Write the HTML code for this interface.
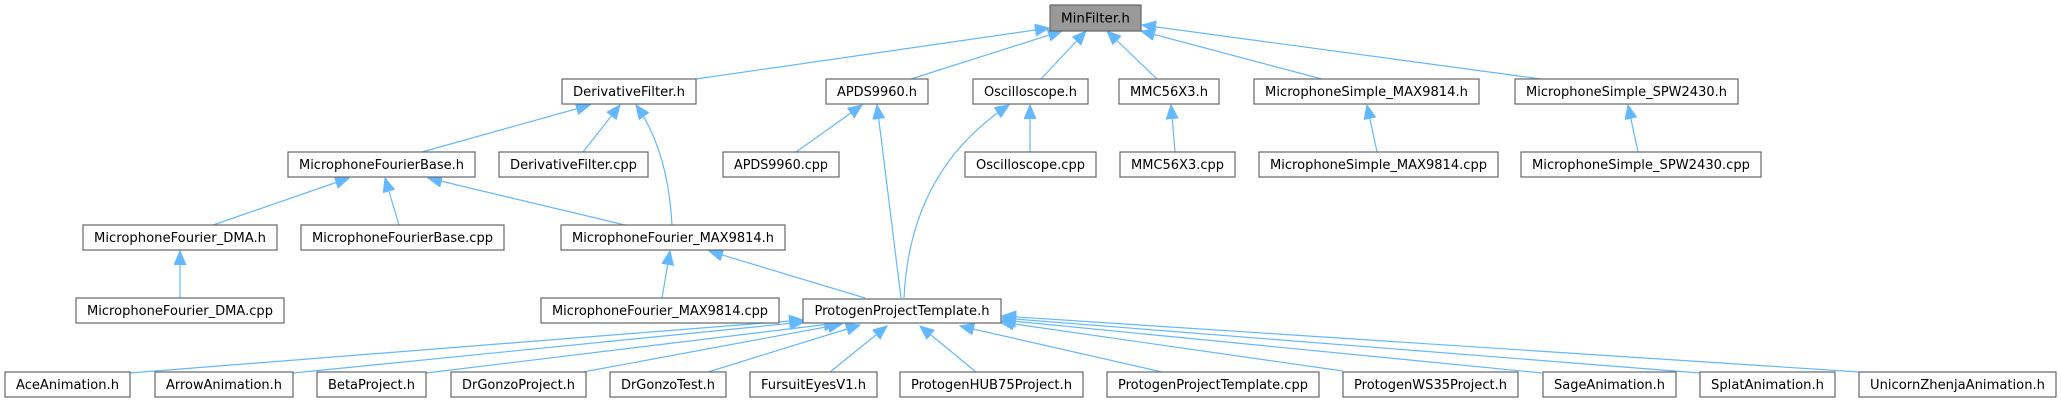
<!DOCTYPE html>
<html><head><meta charset="utf-8"><style>
html,body{margin:0;padding:0;background:#fff;}
svg{display:block;}
text{font-family:"DejaVu Sans","Liberation Sans",sans-serif;font-size:13px;fill:#000;}
</style></head><body>
<svg width="2061" height="403" viewBox="0 0 2061 403" xmlns="http://www.w3.org/2000/svg">
<defs>
<marker id="a" markerUnits="userSpaceOnUse" markerWidth="16" markerHeight="14" refX="14" refY="6" orient="auto">
<path d="M0,0 L14,6 L0,12 z" fill="#63b8ff" stroke="#63b8ff"/>
</marker>
</defs>
<g stroke="#63b8ff" stroke-width="1.2" fill="none" marker-end="url(#a)">
<line x1="696" y1="79" x2="1049" y2="28"/>
<line x1="911" y1="79" x2="1062" y2="31"/>
<line x1="1041" y1="79" x2="1086" y2="31"/>
<line x1="1157" y1="79" x2="1107" y2="31"/>
<line x1="1322" y1="79" x2="1141" y2="31"/>
<line x1="1541" y1="79" x2="1142" y2="25"/>
<line x1="422" y1="152" x2="590" y2="105"/>
<line x1="583" y1="152" x2="620" y2="105"/>
<path d="M672,225 Q668,150 636,105"/>
<line x1="213" y1="225" x2="349" y2="178"/>
<line x1="399" y1="225" x2="385" y2="178"/>
<line x1="625" y1="225" x2="428" y2="178"/>
<line x1="180" y1="298" x2="180" y2="251"/>
<line x1="662" y1="298" x2="670" y2="251"/>
<line x1="865" y1="298" x2="709" y2="251"/>
<line x1="796" y1="152" x2="862" y2="105"/>
<path d="M901,298 L877,105"/>
<path d="M904,298 Q910,170 1009,105"/>
<line x1="1030" y1="152" x2="1030" y2="105"/>
<line x1="1175" y1="152" x2="1171" y2="105"/>
<line x1="1377" y1="152" x2="1367" y2="105"/>
<line x1="1638" y1="152" x2="1628" y2="105"/>
<line x1="130" y1="373" x2="803" y2="320"/>
<line x1="293" y1="373" x2="804" y2="322"/>
<line x1="426" y1="373" x2="838" y2="323"/>
<line x1="583" y1="372" x2="842" y2="324"/>
<line x1="708" y1="372" x2="860" y2="325"/>
<line x1="830" y1="372" x2="887" y2="326"/>
<line x1="976" y1="372" x2="920" y2="326"/>
<line x1="1162" y1="372" x2="960" y2="326"/>
<line x1="1343" y1="371" x2="1000" y2="322"/>
<line x1="1542" y1="373" x2="1002" y2="320"/>
<line x1="1700" y1="373" x2="1002" y2="318"/>
<line x1="1859" y1="372" x2="1002" y2="316"/>
</g>
<g stroke="#666" stroke-width="1.2" fill="#fff">
<rect x="1050" y="5" width="91" height="26" fill="#999"/>
<rect x="562" y="79" width="134" height="25"/>
<rect x="826" y="79" width="102" height="25"/>
<rect x="973" y="79" width="115" height="25"/>
<rect x="1119" y="79" width="100" height="25"/>
<rect x="1254" y="79" width="225" height="25"/>
<rect x="1515" y="79" width="223" height="25"/>
<rect x="288" y="152" width="187" height="25"/>
<rect x="499" y="152" width="149" height="25"/>
<rect x="723" y="152" width="116" height="25"/>
<rect x="965" y="152" width="131" height="25"/>
<rect x="1120" y="152" width="115" height="25"/>
<rect x="1259" y="152" width="239" height="25"/>
<rect x="1521" y="152" width="240" height="25"/>
<rect x="83" y="225" width="194" height="25"/>
<rect x="301" y="225" width="203" height="25"/>
<rect x="561" y="225" width="224" height="25"/>
<rect x="76" y="298" width="208" height="25"/>
<rect x="541" y="298" width="238" height="25"/>
<rect x="803" y="299" width="198" height="24"/>
<rect x="5" y="372" width="125" height="25"/>
<rect x="155" y="372" width="138" height="25"/>
<rect x="317" y="372" width="109" height="25"/>
<rect x="451" y="372" width="135" height="25"/>
<rect x="610" y="372" width="116" height="25"/>
<rect x="750" y="372" width="127" height="25"/>
<rect x="900" y="372" width="183" height="25"/>
<rect x="1107" y="372" width="212" height="25"/>
<rect x="1343" y="372" width="175" height="25"/>
<rect x="1543" y="372" width="133" height="25"/>
<rect x="1700" y="372" width="135" height="25"/>
<rect x="1859" y="372" width="197" height="25"/>
</g>
<g text-anchor="middle">
<text x="1095.5" y="22.5" textLength="69" lengthAdjust="spacingAndGlyphs">MinFilter.h</text>
<text x="629" y="96" textLength="112" lengthAdjust="spacingAndGlyphs">DerivativeFilter.h</text>
<text x="877" y="96" textLength="80" lengthAdjust="spacingAndGlyphs">APDS9960.h</text>
<text x="1030.5" y="96" textLength="93" lengthAdjust="spacingAndGlyphs">Oscilloscope.h</text>
<text x="1169" y="96" textLength="78" lengthAdjust="spacingAndGlyphs">MMC56X3.h</text>
<text x="1366.5" y="96" textLength="203" lengthAdjust="spacingAndGlyphs">MicrophoneSimple_MAX9814.h</text>
<text x="1626.5" y="96" textLength="201" lengthAdjust="spacingAndGlyphs">MicrophoneSimple_SPW2430.h</text>
<text x="381.5" y="169" textLength="165" lengthAdjust="spacingAndGlyphs">MicrophoneFourierBase.h</text>
<text x="573.5" y="169" textLength="127" lengthAdjust="spacingAndGlyphs">DerivativeFilter.cpp</text>
<text x="781" y="169" textLength="94" lengthAdjust="spacingAndGlyphs">APDS9960.cpp</text>
<text x="1030.5" y="169" textLength="109" lengthAdjust="spacingAndGlyphs">Oscilloscope.cpp</text>
<text x="1177.5" y="169" textLength="93" lengthAdjust="spacingAndGlyphs">MMC56X3.cpp</text>
<text x="1378.5" y="169" textLength="217" lengthAdjust="spacingAndGlyphs">MicrophoneSimple_MAX9814.cpp</text>
<text x="1641" y="169" textLength="218" lengthAdjust="spacingAndGlyphs">MicrophoneSimple_SPW2430.cpp</text>
<text x="180" y="242" textLength="172" lengthAdjust="spacingAndGlyphs">MicrophoneFourier_DMA.h</text>
<text x="402.5" y="242" textLength="181" lengthAdjust="spacingAndGlyphs">MicrophoneFourierBase.cpp</text>
<text x="673" y="242" textLength="202" lengthAdjust="spacingAndGlyphs">MicrophoneFourier_MAX9814.h</text>
<text x="180" y="315" textLength="186" lengthAdjust="spacingAndGlyphs">MicrophoneFourier_DMA.cpp</text>
<text x="660" y="315" textLength="216" lengthAdjust="spacingAndGlyphs">MicrophoneFourier_MAX9814.cpp</text>
<text x="902" y="315" textLength="175" lengthAdjust="spacingAndGlyphs">ProtogenProjectTemplate.h</text>
<text x="67.5" y="389" textLength="103" lengthAdjust="spacingAndGlyphs">AceAnimation.h</text>
<text x="224" y="389" textLength="116" lengthAdjust="spacingAndGlyphs">ArrowAnimation.h</text>
<text x="371.5" y="389" textLength="87" lengthAdjust="spacingAndGlyphs">BetaProject.h</text>
<text x="518.5" y="389" textLength="113" lengthAdjust="spacingAndGlyphs">DrGonzoProject.h</text>
<text x="668" y="389" textLength="94" lengthAdjust="spacingAndGlyphs">DrGonzoTest.h</text>
<text x="813.5" y="389" textLength="105" lengthAdjust="spacingAndGlyphs">FursuitEyesV1.h</text>
<text x="991.5" y="389" textLength="161" lengthAdjust="spacingAndGlyphs">ProtogenHUB75Project.h</text>
<text x="1213" y="389" textLength="190" lengthAdjust="spacingAndGlyphs">ProtogenProjectTemplate.cpp</text>
<text x="1430.5" y="389" textLength="153" lengthAdjust="spacingAndGlyphs">ProtogenWS35Project.h</text>
<text x="1609.5" y="389" textLength="111" lengthAdjust="spacingAndGlyphs">SageAnimation.h</text>
<text x="1767.5" y="389" textLength="113" lengthAdjust="spacingAndGlyphs">SplatAnimation.h</text>
<text x="1957.5" y="389" textLength="175" lengthAdjust="spacingAndGlyphs">UnicornZhenjaAnimation.h</text>
</g>
</svg>
</body></html>
